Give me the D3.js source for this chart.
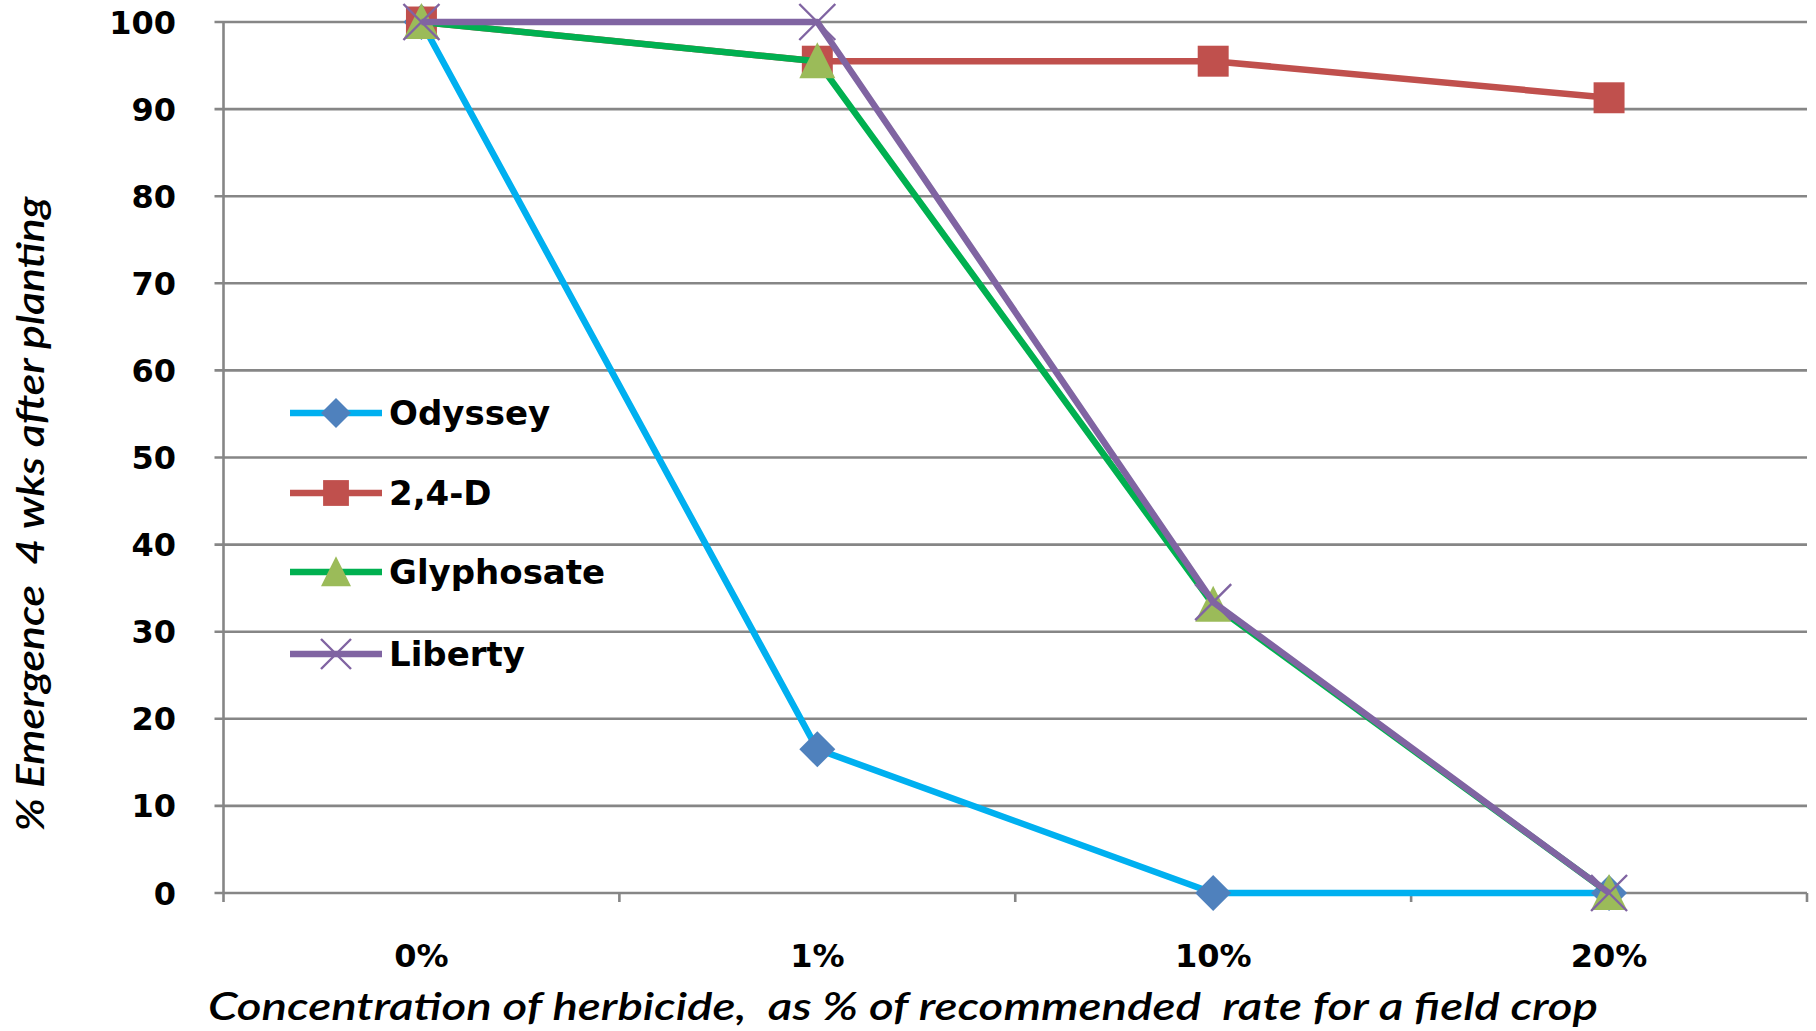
<!DOCTYPE html>
<html><head><meta charset="utf-8">
<script src="https://cdn.jsdelivr.net/npm/d3@7"></script>
<style>html,body{margin:0;padding:0;background:#fff;}svg{display:block;}</style>
</head><body>
<svg id="chart" width="1816" height="1031"></svg>
<script>
const categories = ["0%", "1%", "10%", "20%"];
const seriesNames = ["Odyssey", "2,4-D", "Glyphosate", "Liberty"];
const odyssey = [100, 16.5, 0, 0];
const twoFourD = [100, 95.5, 95.5, 91.3];
const glyphosate = [100, 95.5, 33.1, 0];
const liberty = [100, 100, 33.4, 0];
const yTicks = [0, 10, 20, 30, 40, 50, 60, 70, 80, 90, 100];
const xTitle = "Concentration of herbicide,  as % of recommended  rate for a field crop";
const yTitle = "% Emergence  4 wks after planting";

const series = [
  {name: seriesNames[0], values: odyssey, line: "#00B0F0", fill: "#4F81BD", marker: "diamond"},
  {name: seriesNames[1], values: twoFourD, line: "#C0504D", fill: "#C0504D", marker: "square"},
  {name: seriesNames[2], values: glyphosate, line: "#00B050", fill: "#9BBB59", marker: "triangle"},
  {name: seriesNames[3], values: liberty, line: "#8064A2", fill: "#8064A2", marker: "x"}
];

const svg = d3.select("#chart");
const L = 223.5, R = 1807, T = 22, B = 893;
const x = d3.scaleBand().domain(categories).range([L, R]).padding(0);
const y = d3.scaleLinear().domain([0, 100]).range([B, T]);
const grid = "#868686";
const font = "Tahoma, 'DejaVu Sans', Verdana, sans-serif";
const tfont = "Lato, 'Open Sans', sans-serif";

// gridlines
svg.append("g").selectAll("line").data(yTicks).join("line")
  .attr("x1", L - 9).attr("x2", R)
  .attr("y1", d => y(d)).attr("y2", d => y(d))
  .attr("stroke", grid).attr("stroke-width", 2.6);

// y axis line
svg.append("line").attr("x1", L).attr("x2", L).attr("y1", T).attr("y2", B + 9)
  .attr("stroke", grid).attr("stroke-width", 2.6);

// x ticks at band boundaries
const bounds = categories.map(c => x(c)).concat([R]);
svg.append("g").selectAll("line").data(bounds.slice(1)).join("line")
  .attr("x1", d => d).attr("x2", d => d).attr("y1", B).attr("y2", B + 9)
  .attr("stroke", grid).attr("stroke-width", 2.6);

// y tick labels
svg.append("g").selectAll("text").data(yTicks).join("text")
  .attr("x", 176).attr("y", d => y(d)).attr("dy", "0.36em")
  .attr("text-anchor", "end").attr("font-family", font).attr("font-weight", "bold")
  .attr("font-size", 32).attr("fill", "#000").text(d => d);

// x tick labels
const cx = c => x(c) + x.bandwidth() / 2;
svg.append("g").selectAll("text").data(categories).join("text")
  .attr("x", d => cx(d)).attr("y", 967)
  .attr("text-anchor", "middle").attr("font-family", font).attr("font-weight", "bold")
  .attr("font-size", 32).attr("fill", "#000").text(d => d);

// axis titles
svg.append("text").attr("x", 903).attr("y", 1020).attr("text-anchor", "middle")
  .style("white-space", "pre")
  .attr("font-family", tfont).attr("font-style", "italic").attr("font-weight", 600)
  .attr("font-size", 38).attr("textLength", 1390).attr("lengthAdjust", "spacingAndGlyphs")
  .attr("fill", "#000").text(xTitle);
svg.append("text").attr("transform", "translate(44,514) rotate(-90)").attr("text-anchor", "middle")
  .style("white-space", "pre")
  .attr("font-family", tfont).attr("font-style", "italic").attr("font-weight", 600)
  .attr("font-size", 38).attr("textLength", 635).attr("lengthAdjust", "spacingAndGlyphs")
  .attr("fill", "#000").text(yTitle);

function drawMarker(g, type, px, py, fill, s) {
  if (type === "diamond") {
    g.append("path").attr("d", `M${px},${py - s}L${px + s},${py}L${px},${py + s}L${px - s},${py}Z`).attr("fill", fill);
  } else if (type === "square") {
    g.append("rect").attr("x", px - s * 0.86).attr("y", py - s * 0.86).attr("width", s * 1.72).attr("height", s * 1.72).attr("fill", fill);
  } else if (type === "triangle") {
    g.append("path").attr("d", `M${px},${py - s * 1.05}L${px + s},${py + s * 0.95}L${px - s},${py + s * 0.95}Z`).attr("fill", fill);
  } else if (type === "x") {
    g.append("path").attr("d", `M${px - s},${py - s}L${px + s},${py + s}M${px + s},${py - s}L${px - s},${py + s}`)
      .attr("stroke", fill).attr("stroke-width", 2.4).attr("fill", "none");
  }
}

const line = d3.line().x((d, i) => cx(categories[i])).y(d => y(d));
series.forEach(s => {
  const g = svg.append("g");
  g.append("path").attr("d", line(s.values)).attr("fill", "none")
    .attr("stroke", s.line).attr("stroke-width", 6.5).attr("stroke-linejoin", "round");
  s.values.forEach((v, i) => drawMarker(g, s.marker, cx(categories[i]), y(v), s.fill, 18));
});

// legend
const legY = [413, 493, 572, 654];
series.forEach((s, i) => {
  const g = svg.append("g");
  g.append("line").attr("x1", 290).attr("x2", 382).attr("y1", legY[i]).attr("y2", legY[i])
    .attr("stroke", s.line).attr("stroke-width", 6.5);
  drawMarker(g, s.marker, 336, legY[i], s.fill, 15);
  g.append("text").attr("x", 389).attr("y", legY[i]).attr("dy", "0.36em")
    .attr("font-family", font).attr("font-weight", "bold").attr("font-size", 34)
    .attr("fill", "#000").text(s.name);
});
</script>
</body></html>
